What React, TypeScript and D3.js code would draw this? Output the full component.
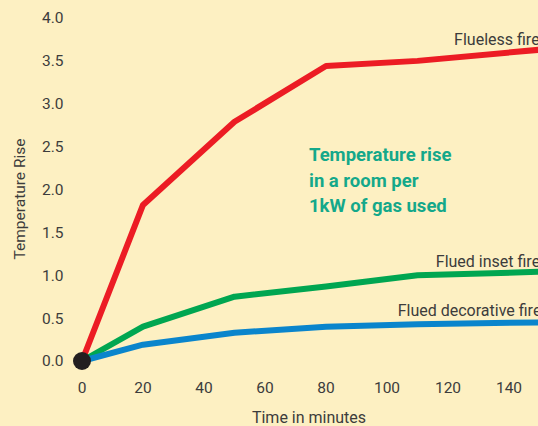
import React, { useEffect } from 'react'
import * as d3 from 'd3'

const minutes = [0, 20, 50, 80, 110, 150]
const flueless = [0, 1.82, 2.79, 3.44, 3.5, 3.63]
const fluedInset = [0, 0.4, 0.75, 0.87, 1.0, 1.04]
const fluedDecorative = [0, 0.19, 0.33, 0.4, 0.43, 0.45]
const seriesNames = ['Flueless fire', 'Flued inset fire', 'Flued decorative fire']
const seriesColors = ['#ec1c24', '#00a651', '#0a85cc']
const xTicks = [0, 20, 40, 60, 80, 100, 120, 140]
const yTicks = [0, 0.5, 1, 1.5, 2, 2.5, 3, 3.5, 4]
const noteLines = ['Temperature rise', 'in a room per', '1kW of gas used']

export default function App() {
  useEffect(() => {
    document.body.style.margin = '0'
  }, [])

  const width = 538
  const height = 426
  const x = d3.scaleLinear().domain([0, 140]).range([82, 509])
  const y = d3.scaleLinear().domain([0, 4]).range([361, 18])
  const line = d3
    .line<number>()
    .x((_, i) => x(minutes[i]))
    .y((d) => y(d))

  const all = [flueless, fluedInset, fluedDecorative]
  // where each series label starts (minute) and sits (value)
  const labelAt = [
    { m: 122, v: 3.69 },
    { m: 116, v: 1.1 },
    { m: 103.5, v: 0.53 },
  ]
  const font = 'Roboto, "DejaVu Sans", sans-serif'
  const ink = '#3c3c3c'

  return (
    <svg width={width} height={height} style={{ display: 'block' }} fontFamily={font}>
      <rect width={width} height={height} fill="#fdf0c2" />
      {yTicks.map((t) => (
        <text key={t} x={42} y={y(t)} dy="0.35em" fontSize={15.5} fill={ink}>
          {t.toFixed(1)}
        </text>
      ))}
      {xTicks.map((t) => (
        <text key={t} x={x(t)} y={393} textAnchor="middle" fontSize={15.5} fill={ink}>
          {t}
        </text>
      ))}
      <text x={309} y={423} textAnchor="middle" fontSize={16} fill={ink}>
        Time in minutes
      </text>
      <text
        transform="translate(25,199) rotate(-90)"
        textAnchor="middle"
        fontSize={15.5}
        fill={ink}
      >
        Temperature Rise
      </text>
      <g>
        {all.map((s, i) => (
          <path
            key={seriesNames[i]}
            d={line(s) || ''}
            fill="none"
            stroke={seriesColors[i]}
            strokeWidth={6}
            strokeLinejoin="round"
          />
        ))}
      </g>
      {seriesNames.map((n, i) => (
        <text
          key={n}
          x={x(labelAt[i].m)}
          y={y(labelAt[i].v)}
          fontSize={16}
          fill={ink}
        >
          {n}
        </text>
      ))}
      <circle cx={x(0)} cy={y(0)} r={9} fill="#231f20" />
      {noteLines.map((l, i) => (
        <text
          key={l}
          x={309}
          y={161 + i * 25.5}
          fontSize={18.5}
          fontWeight="bold"
          fill="#14a88a"
        >
          {l}
        </text>
      ))}
    </svg>
  )
}
